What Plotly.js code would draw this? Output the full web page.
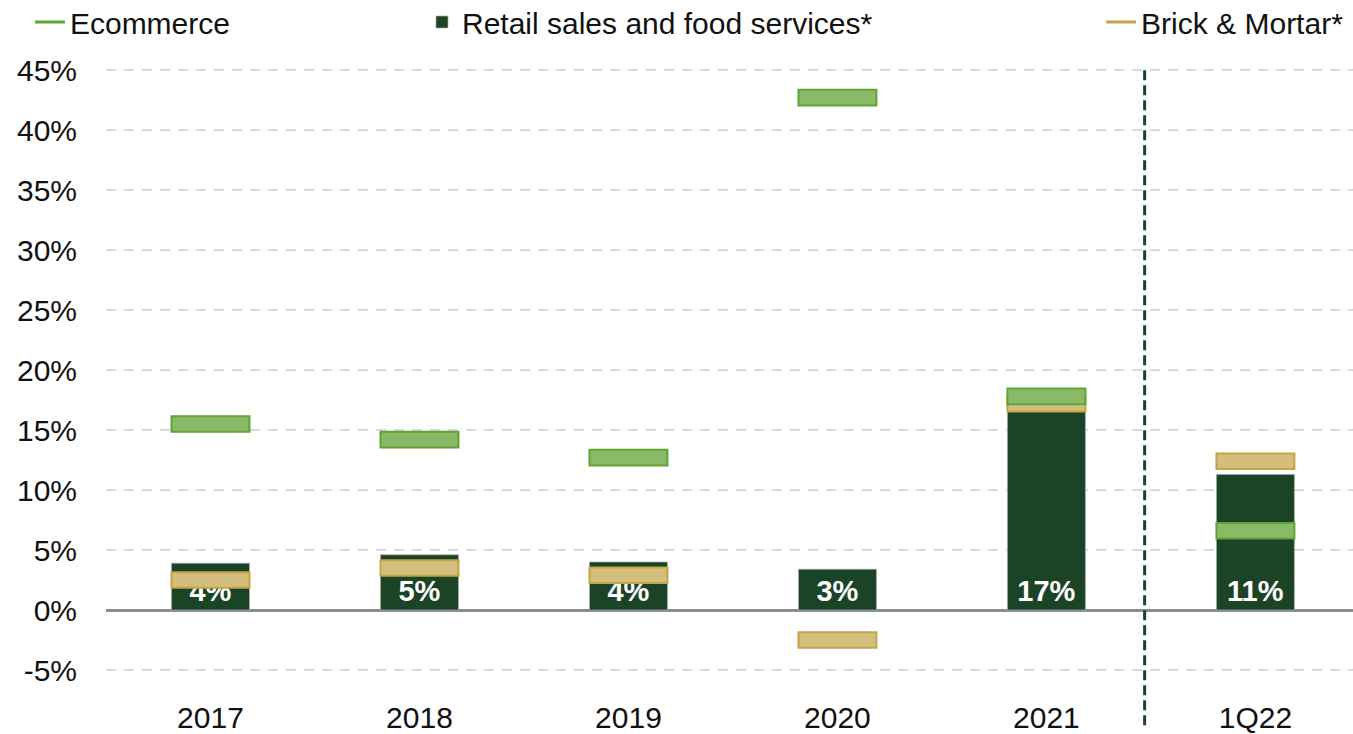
<!DOCTYPE html>
<html>
<head>
<meta charset="utf-8">
<script src="https://cdn.plot.ly/plotly-3.0.1.min.js"></script>
<style>html,body{margin:0;padding:0;background:#fff;}#chart{width:1353px;height:734px;}</style>
</head>
<body>
<div id="chart"></div>
<script>
const categories = ['2017', '2018', '2019', '2020', '2021', '1Q22'];
const retailSales = [3.9, 4.6, 4.0, 3.4, 16.8, 11.3];
const ecommerce = [15.5, 14.2, 12.7, 42.7, 17.8, 6.6];
const brickMortar = [2.5, 3.5, 2.9, -2.5, 17.2, 12.4];
const yTickValues = [-5, 0, 5, 10, 15, 20, 25, 30, 35, 40, 45];
const yTickLabels = ['-5%', '0%', '5%', '10%', '15%', '20%', '25%', '30%', '35%', '40%', '45%'];

const markH = 1.3;
const FONT = 'Liberation Sans, Arial, sans-serif';

const traces = [
  {
    type: 'bar', name: 'Retail sales and food services*', legend: 'legend2',
    x: categories, y: retailSales,
    marker: {color: '#1b4326', line: {color: 'rgba(170,170,170,0.7)', width: 1}},
    text: retailSales.map(v => Math.round(v) + '%'),
    textposition: 'inside', insidetextanchor: 'start', constraintext: 'none', textangle: 0,
    textfont: {family: FONT, size: 29, color: '#ffffff', weight: 'bold'},
    hoverinfo: 'skip'
  },
  {
    type: 'bar', name: 'Brick & Mortar*', showlegend: false,
    x: categories, y: brickMortar.map(() => markH), base: brickMortar.map(v => v - markH / 2),
    marker: {color: '#d3be7d', line: {color: '#c2a545', width: 2}},
    hoverinfo: 'skip'
  },
  {
    type: 'bar', name: 'Ecommerce', showlegend: false,
    x: categories, y: ecommerce.map(() => markH), base: ecommerce.map(v => v - markH / 2),
    marker: {color: '#8aba68', line: {color: '#5fa534', width: 2}},
    hoverinfo: 'skip'
  },
  {
    type: 'scatter', mode: 'lines', name: 'Ecommerce', legend: 'legend',
    x: [null], y: [null], line: {color: '#5fa534', width: 3}
  },
  {
    type: 'scatter', mode: 'lines', name: 'Brick & Mortar*', legend: 'legend3',
    x: [null], y: [null], line: {color: '#c2a545', width: 3}
  }
];

const legendBase = {
  orientation: 'h', xanchor: 'left', yanchor: 'middle', y: 1.0566,
  bgcolor: 'rgba(0,0,0,0)', font: {family: FONT, size: 30, color: '#111'},
  itemwidth: 30
};

const layout = {
  width: 1353, height: 734,
  margin: {l: 106, r: 0, t: 58, b: 40, autoexpand: false},
  paper_bgcolor: '#ffffff', plot_bgcolor: '#ffffff',
  barmode: 'overlay', bargap: 0.627,
  font: {family: FONT, size: 30, color: '#111'},
  xaxis: {
    type: 'category', range: [-0.5, 5.467], showgrid: false, zeroline: false,
    showline: false, ticks: '', ticklabelstandoff: 3, automargin: false,
    tickfont: {family: FONT, size: 30, color: '#111'}
  },
  yaxis: {
    range: [-7, 46], tickvals: yTickValues, ticktext: yTickLabels,
    showgrid: true, gridcolor: '#d9d9d9', gridwidth: 1.5, griddash: '10px,8px',
    zeroline: true, zerolinecolor: '#8c8c8c', zerolinewidth: 3,
    showline: false, ticks: '', ticklabelstandoff: 28, automargin: false,
    tickfont: {family: FONT, size: 30, color: '#111'}
  },
  showlegend: true,
  legend: Object.assign({}, legendBase, {x: -0.061}),
  legend2: Object.assign({}, legendBase, {x: 0.2534}),
  legend3: Object.assign({}, legendBase, {x: 0.798}),
  shapes: [{
    type: 'line', xref: 'x', yref: 'paper', x0: 4.47, x1: 4.47, y0: -0.049, y1: 0.984,
    line: {color: '#1b4326', width: 3, dash: '10px,5px'}
  }]
};

Plotly.newPlot('chart', traces, layout, {displayModeBar: false, staticPlot: true});
</script>
</body>
</html>
